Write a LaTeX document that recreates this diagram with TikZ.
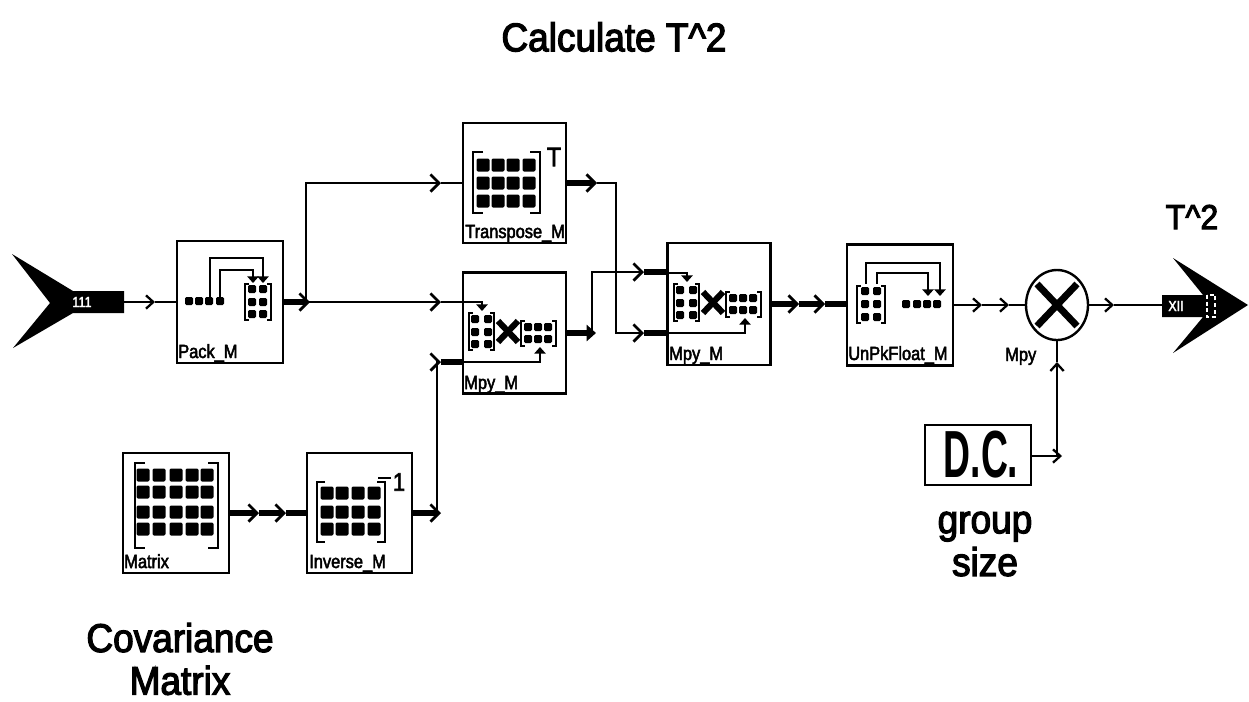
\documentclass[tikz,border=0pt]{standalone}
\usepackage{fontspec}
\setmainfont[FakeStretch=0.925,FakeBold=3]{Liberation Sans}
\newfontfamily\lblfont[FakeStretch=0.86,FakeBold=2.5]{Liberation Sans}
\newfontfamily\dcfont[FakeStretch=0.56]{Liberation Sans Bold}
\usetikzlibrary{arrows.meta,shapes.geometric}
\newcommand\mdots[3]{\foreach \xx in {#1}{\foreach \yy in {#2}{\fill[rounded corners=1pt] (\xx,\yy) +(-#3,-#3) rectangle +(#3,#3);}}}
\newcommand\mbrk[5]{\draw[icon] (#1,#3) ++(#5,0) -- ++(-#5,0) -- (#1,#4) -- ++(#5,0);\draw[icon] (#2,#3) ++(-#5,0) -- ++(#5,0) -- (#2,#4) -- ++(-#5,0);}
\newcommand\mpyicon{%
  \mdots{475,488}{319,332,344}{4}
  \mbrk{469}{494}{313}{350}{4}
  \draw[line width=4.6pt] (498,321)--(518,342) (518,321)--(498,342);
  \mdots{528,538,548}{327,339}{4}
  \mbrk{521}{556}{321}{346}{4}
}
\tikzset{
  box/.style={draw,line width=2pt,minimum width=103*0.75pt,minimum height=120*0.75pt,inner sep=0pt,fill=white},
  icon/.style={line width=1.6pt},
  lbl/.style={anchor=base west,inner sep=0pt,font=\lblfont\fontsize{14.3}{14.3}\selectfont},
  big/.style={inner sep=0pt,align=center,font=\fontsize{30}{32}\selectfont},
  thinw/.style={line width=1.7pt},
  midw/.style={line width=2.1pt},
  thickw/.style={line width=3.8pt},
  chev/.style={preaction={draw,-,shorten >=1pt},-{Straight Barb[length=6.5pt,width=13pt,line width=2pt]}},
  chevs/.style={preaction={draw,-,shorten >=1pt},-{Straight Barb[length=5.5pt,width=10pt,line width=1.7pt]}},
  iconarrow/.style={line width=1.8pt,-{Triangle[length=5pt,width=8.5pt]}},
  port/.style={fill=black,line join=miter}
}
\begin{document}
\begin{tikzpicture}[x=0.75pt,y=-0.75pt]
\useasboundingbox (0,0) rectangle (1249,701);

% blocks
\node[box,minimum width=106*0.75pt,minimum height=122*0.75pt] (pack) at (230,302) {};
\node[box] (trans) at (514.5,183) {};
\node[box,minimum height=121*0.75pt] (mpya) at (514.5,333) {};
\node[box,minimum height=122*0.75pt] (mpyb) at (719,304) {};
\node[box,minimum width=106*0.75pt,minimum height=121*0.75pt] (unpk) at (900,305) {};
\node[box,minimum width=106*0.75pt] (mat) at (176,513) {};
\node[box,minimum width=105*0.75pt] (inv) at (359.5,513) {};
\node[draw,line width=2pt,minimum width=106*0.75pt,minimum height=60*0.75pt,inner sep=0pt,font=\dcfont\fontsize{50}{50}\selectfont] (dc) at (978,455) {\hspace{4.5pt}D.C.};
\node[draw,ellipse,line width=1.8pt,minimum width=62*0.75pt,minimum height=70*0.75pt,inner sep=0pt] (mult) at (1057,305) {};
\draw[line width=5.2pt] (1037,284)--(1077,326) (1077,284)--(1037,326);

% block labels
\node[lbl] (lpack) at (178,358) {Pack\_M};
\node[lbl] (ltrans) at (465,238) {Transpose\_M};
\node[lbl] (lmpya) at (464,389) {Mpy\_M};
\node[lbl] (lmpyb) at (669,360) {Mpy\_M};
\node[lbl] (lunpk) at (848,360) {UnPkFloat\_M};
\node[lbl] (lmat) at (124,568) {Matrix};
\node[lbl] (linv) at (309,568) {Inverse\_M};
\node[lbl] (lmult) at (1005,361) {Mpy};

% big labels
\node[big] (title) at (614,37) {Calculate T\textasciicircum 2};
\node[big,font=\fontsize{26}{26}\selectfont] (tsq) at (1192,217) {T\textasciicircum 2};
\node[big] (cov) at (180,659) {Covariance\\Matrix};
\node[big] (grp) at (985,544) {group\\size};

% ports
\fill[port] (12,254) -- (73,291) -- (124,291) -- (124,313) -- (73,313) -- (13,348) -- (50,303) -- cycle;
\node[inner sep=0pt,text=white,font=\lblfont\fontsize{11}{11}\selectfont] (pin) at (82,302) {111};
\coordinate (pinout) at (124,302);
\fill[port] (1173,258) -- (1248,305) -- (1173,353) -- (1203,317) -- (1162,317) -- (1162,295) -- (1203,295) -- cycle;
\node[inner sep=0pt,text=white,font=\lblfont\fontsize{11}{11}\selectfont] (pout) at (1176,306) {XII};
\draw[white,line width=0.8pt,densely dashed] (1207,295) rectangle (1215,317);
\coordinate (poutin) at (1162,305);

% icons
\mdots{189,199,209,220}{301}{4}
\mdots{252,263}{289,302,314}{4}
\mbrk{245}{271}{284}{320}{4}
\draw[iconarrow] (210,297) -- (210,258) -- (263,258) -- (263,283);
\draw[iconarrow] (220,297) -- (220,270) -- (253,270) -- (253,283);

\mdots{483,498,513,529}{165,183,201}{6.5}
\mbrk{473}{540}{152}{213}{10}
\node[inner sep=0pt,font=\lblfont\fontsize{20}{20}\selectfont] (tT) at (554,157) {T};

\mpyicon
\draw[iconarrow] (463,302) -- (482,302) -- (482,311);
\draw[iconarrow] (463,362) -- (540,362) -- (540,347);
\begin{scope}[shift={(205,-29)}]
\mpyicon
\end{scope}
\draw[iconarrow] (668,273) -- (687,273) -- (687,282);
\draw[iconarrow] (668,333) -- (745,333) -- (745,318);

\mdots{865,877}{291,304,317}{4}
\mbrk{857}{885}{286}{323}{4}
\mdots{906,917,927,937}{304}{4}
\draw[iconarrow] (866,284) -- (866,263) -- (940,263) -- (940,296);
\draw[iconarrow] (877,284) -- (877,273) -- (928,273) -- (928,296);

\mdots{143,159,176,192,207}{475,492,512,529}{6.5}
\mbrk{135}{218}{463}{548}{10}

\mdots{327,342,358,374}{493,512,529}{6.5}
\mbrk{317}{385}{482}{542}{8}
\draw[line width=2pt] (378,478) -- (391,478);
\node[inner sep=0pt,font=\lblfont\fontsize{19}{19}\selectfont] (invone) at (399,482) {1};

% junction coordinates
\coordinate (c1) at (155,302);
\coordinate (j1) at (306,302);
\coordinate (c2) at (310,302);
\coordinate (c3) at (441,302);
\coordinate (t1) at (306,183);
\coordinate (c4) at (441,183);
\coordinate (mai) at (463,302);
\coordinate (tin) at (463,183);
\coordinate (c5) at (597,183);
\coordinate (j2) at (616,183);
\coordinate (b2) at (616,333);
\coordinate (c6) at (644,333);
\coordinate (mbl) at (668,333);
\coordinate (a3) at (596,333);
\coordinate (j3) at (592,333);
\coordinate (t3) at (592,272);
\coordinate (c7) at (644,272);
\coordinate (mbu) at (668,272);
\coordinate (j4) at (437,513);
\coordinate (a4) at (441,513);
\coordinate (t4) at (437,362);
\coordinate (c8) at (441,362);
\coordinate (mal) at (463,362);
\coordinate (c9) at (259,513);
\coordinate (c10) at (286,513);
\coordinate (c11) at (799,304);
\coordinate (c12) at (825,304);
\coordinate (c13) at (982,305);
\coordinate (c14) at (1009,305);
\coordinate (c15) at (1114,305);
\coordinate (j5) at (1057,456);
\coordinate (c16) at (1062,456);
\coordinate (c17) at (1057,362);

% connectors
\draw[thinw,chevs] (pinout) -- (c1);
\draw[thinw] (c1) -- (pack.west);
\draw[thickw,chev] (pack.east) -- (c2);
\draw[thinw,chev] (j1) -- (c3);
\draw[line width=1.9pt] (c3) -- (mai);
\draw[thinw,chev] (j1) -- (t1) -- (c4);
\draw[thinw] (c4) -- (tin);
\draw[thickw,chev] (trans.east) -- (c5);
\draw[midw,chev] (c5) -- (j2) -- (b2) -- (c6);
\draw[thickw] (c6) -- (mbl);
\draw[line width=4.5pt,-{Triangle[length=7pt,width=12pt]}] (mpya.east) -- (a3);
\draw[midw,chev] (j3) -- (t3) -- (c7);
\draw[thickw] (c7) -- (mbu);
\draw[thickw,chev] (inv.east) -- (a4);
\draw[midw,chev] (j4) -- (t4) -- (c8);
\draw[thickw] (c8) -- (mal);
\draw[thickw,chev] (mat.east) -- (c9);
\draw[thickw,chev] (c9) -- (c10);
\draw[thickw] (c10) -- (inv.west);
\draw[thickw,chev] (mpyb.east) -- (c11);
\draw[thickw,chev] (c11) -- (c12);
\draw[thickw] (c12) -- (c12 -| unpk.west);
\draw[thinw,chevs] (unpk.east) -- (c13);
\draw[thinw,chevs] (c13) -- (c14);
\draw[thinw] (c14) -- (mult.west);
\draw[thinw,chevs] (mult.east) -- (c15);
\draw[thinw] (c15) -- (poutin);
\draw[thinw,chevs] (dc.east |- j5) -- (c16);
\draw[thinw,chevs] (j5) -- (c17);
\draw[thinw] (c17) -- (mult.south);
\end{tikzpicture}
\end{document}
